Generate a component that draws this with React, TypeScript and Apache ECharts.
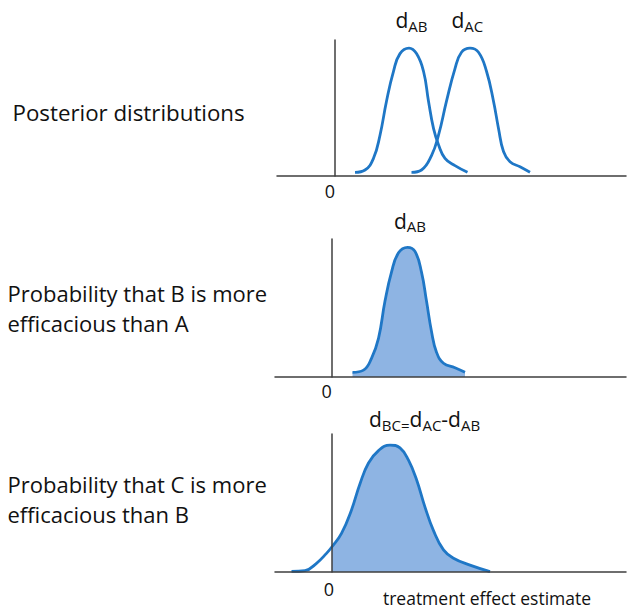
import React, { useEffect, useRef } from "react";
import * as echarts from "echarts";

// Posterior density of d_AB (x = treatment effect, y = relative density)
const dAB: [number, number][] = [
  [0.4, 0.027], [0.6, 0.044], [0.77, 0.13], [0.9, 0.3], [1.03, 0.55], [1.17, 0.77],
  [1.3, 0.9], [1.48, 0.94], [1.63, 0.9], [1.77, 0.77], [1.87, 0.55], [1.97, 0.35],
  [2.07, 0.23], [2.2, 0.13], [2.4, 0.076], [2.65, 0.027],
];
// Posterior density of d_AC
const dAC: [number, number][] = [
  [1.53, 0.027], [1.73, 0.044], [1.93, 0.15], [2.07, 0.3], [2.23, 0.55], [2.4, 0.79],
  [2.53, 0.91], [2.7, 0.94], [2.87, 0.91], [3.03, 0.77], [3.17, 0.55], [3.27, 0.35],
  [3.37, 0.18], [3.5, 0.105], [3.7, 0.068], [3.9, 0.027],
];
// d_AB as drawn in the second panel
const dAB2: [number, number][] = [
  [0.41, 0.034], [0.63, 0.05], [0.79, 0.135], [0.93, 0.28], [1.06, 0.55], [1.19, 0.76],
  [1.33, 0.9], [1.51, 0.94], [1.66, 0.91], [1.79, 0.76], [1.89, 0.55], [1.99, 0.33],
  [2.09, 0.18], [2.23, 0.1], [2.46, 0.067], [2.66, 0.034],
];
// d_BC = d_AC - d_AB
const dBC: [number, number][] = [
  [-0.81, 0.004], [-0.54, 0.01], [-0.31, 0.063], [-0.11, 0.135], [0, 0.183], [0.19, 0.28],
  [0.39, 0.45], [0.56, 0.64], [0.73, 0.79], [0.93, 0.88], [1.16, 0.92], [1.36, 0.9],
  [1.53, 0.81], [1.69, 0.67], [1.86, 0.47], [2.03, 0.3], [2.23, 0.16], [2.43, 0.1],
  [2.76, 0.05], [3.16, 0.003],
];

const panelTexts: string[] = [
  "Posterior distributions",
  "Probability that B is more\nefficacious than A",
  "Probability that C is more\nefficacious than B",
];
const zeroLabel = "0";
const xAxisTitle = "treatment effect estimate";

const FONT = "'Open Sans', 'DejaVu Sans', sans-serif";
const LINE = "#1f77c6";
const FILL = "#8eb4e3";
const AXIS = "#3f3f3f";
const TXT = "#111111";

const rich = {
  d: { fontSize: 21, lineHeight: 26, fontFamily: FONT, fill: TXT },
  s: { fontSize: 15, lineHeight: 14, verticalAlign: "bottom", fontFamily: FONT, fill: TXT },
};

function richText(x: number, y: number, text: string) {
  return {
    type: "text",
    x,
    y,
    style: {
      text,
      rich,
      align: "left",
      verticalAlign: "middle",
      textAlign: "left",
      textVerticalAlign: "middle",
    },
  };
}

function plainText(x: number, y: number, text: string, size: number, align = "left", lh?: number) {
  return {
    type: "text",
    x,
    y,
    style: {
      text,
      fontSize: size,
      fontFamily: FONT,
      fill: TXT,
      lineHeight: lh,
      align,
      verticalAlign: "middle",
      textAlign: align,
      textVerticalAlign: "middle",
    },
  };
}

export default function App() {
  const ref = useRef<HTMLDivElement>(null);

  useEffect(() => {
    if (!ref.current) return;
    const chart = echarts.init(ref.current, undefined, { renderer: "svg" });

    const grids = [
      { left: 277, right: 2, top: 40, height: 136 },
      { left: 275, right: 2, top: 239, height: 138 },
      { left: 275, right: 2, top: 434, height: 138 },
    ];
    const xRanges = [
      [-1.16, 5.82],
      [-1.14, 5.88],
      [-1.14, 5.88],
    ];

    const xAxis = grids.map((_, i) => ({
      type: "value",
      gridIndex: i,
      min: xRanges[i][0],
      max: xRanges[i][1],
      axisLine: { show: true, onZero: true, lineStyle: { color: AXIS, width: 1.5 } },
      axisTick: { show: false },
      axisLabel: { show: false },
      splitLine: { show: false },
      z: 10,
    }));
    const yAxis = grids.map((_, i) => ({
      type: "value",
      gridIndex: i,
      min: 0,
      max: 1,
      axisLine: { show: true, onZero: true, lineStyle: { color: AXIS, width: 1.5 } },
      axisTick: { show: false },
      axisLabel: { show: false },
      splitLine: { show: false },
      z: 10,
    }));

    const lineSeries = (data: [number, number][], idx: number, area = false, lineShown = true) => ({
      type: "line",
      xAxisIndex: idx,
      yAxisIndex: idx,
      data,
      smooth: 0.45,
      symbol: "none",
      showSymbol: false,
      silent: true,
      lineStyle: { color: LINE, width: lineShown ? 2.8 : 0, opacity: lineShown ? 1 : 0 },
      areaStyle: area ? { color: FILL, opacity: 1 } : undefined,
      z: lineShown ? 5 : 2,
    });

    const dBCpos = dBC.filter((p) => p[0] >= 0);

    chart.setOption({
      animation: false,
      backgroundColor: "#ffffff",
      grid: grids,
      xAxis,
      yAxis,
      series: [
        lineSeries(dAB, 0),
        lineSeries(dAC, 0),
        lineSeries(dAB2, 1, true),
        lineSeries(dBCpos, 2, true, false),
        lineSeries(dBC, 2),
      ],
      graphic: [
        plainText(12.5, 112, panelTexts[0], 22.3),
        plainText(7.5, 307.5, panelTexts[1], 22, "left", 30),
        plainText(7.5, 499, panelTexts[2], 22, "left", 30),
        plainText(330, 191, zeroLabel, 18, "center"),
        plainText(326.7, 391, zeroLabel, 18, "center"),
        plainText(329, 589, zeroLabel, 18, "center"),
        plainText(487, 598, xAxisTitle, 17.5, "center"),
        richText(395.5, 20, "{d|d}{s|AB}"),
        richText(451.5, 20, "{d|d}{s|AC}"),
        richText(394, 220.5, "{d|d}{s|AB}"),
        richText(369, 419, "{d|d}{s|BC=}{d|d}{s|AC}{d|-}{d|d}{s|AB}"),
      ],
    });

    return () => chart.dispose();
  }, []);

  return (
    <div
      ref={ref}
      style={{ position: "fixed", left: 0, top: 0, width: 628, height: 611, background: "#fff" }}
    />
  );
}
